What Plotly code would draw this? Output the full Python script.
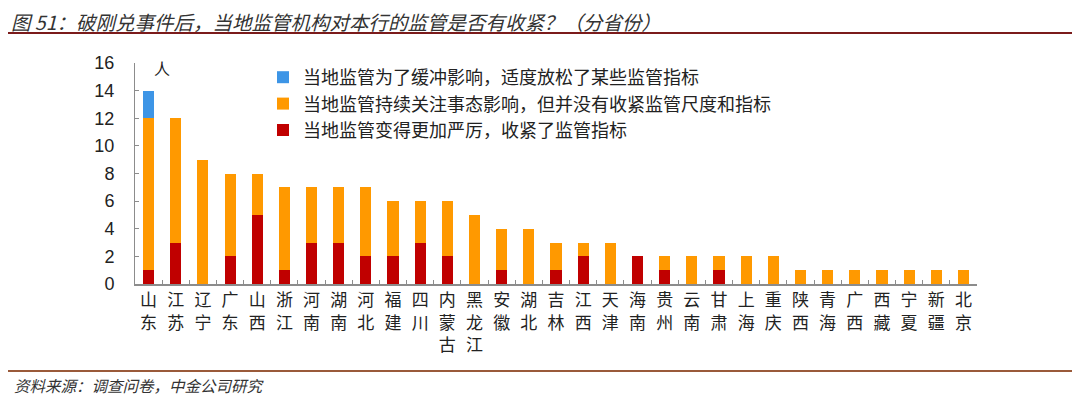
import plotly.graph_objects as go

provinces = ["山东", "江苏", "辽宁", "广东", "山西", "浙江", "河南", "湖南", "河北", "福建",
             "四川", "内蒙古", "黑龙江", "安徽", "湖北", "吉林", "江西", "天津", "海南", "贵州",
             "云南", "甘肃", "上海", "重庆", "陕西", "青海", "广西", "西藏", "宁夏", "新疆", "北京"]
tightened = [1, 3, 0, 2, 5, 1, 3, 3, 2, 2, 3, 2, 0, 1, 0, 1, 2, 0, 2, 1, 0, 1, 0, 0, 0, 0, 0, 0, 0, 0, 0]
watching = [11, 9, 9, 6, 3, 6, 4, 4, 5, 4, 3, 4, 5, 3, 4, 2, 1, 3, 0, 1, 2, 1, 2, 2, 1, 1, 1, 1, 1, 1, 1]
relaxed = [2] + [0] * 30
names = ["当地监管变得更加严厉，收紧了监管指标",
         "当地监管持续关注事态影响，但并没有收紧监管尺度和指标",
         "当地监管为了缓冲影响，适度放松了某些监管指标"]
colors = ["#C00000", "#FF9900", "#3D95E6"]
y_ticks = [0, 2, 4, 6, 8, 10, 12, 14, 16]

labels = ["<br>".join(list(p)) for p in provinces]
font_cn = "Noto Sans CJK SC"

# page offset (browser body margin) compensation: figure starts at (8, 8)
OFF = 8
W, H = 1080 - OFF, 397 - OFF
L, T = 135 - OFF, 63 - OFF
PW, PH = 842, 221
R = W - L - PW
B = H - T - PH


def px(x):  # reference pixel x -> paper x
    return (x - OFF - L) / PW


def py(y):  # reference pixel y -> paper y
    return (T + PH - (y - OFF)) / PH


fig = go.Figure()
for vals, nm, c in zip([tightened, watching, relaxed], names, colors):
    fig.add_trace(go.Bar(x=labels, y=vals, name=nm, marker=dict(color=c, line=dict(width=0))))

fig.update_layout(
    width=W, height=H,
    barmode="stack", bargap=0.59,
    paper_bgcolor="white", plot_bgcolor="white",
    margin=dict(l=L, r=R, t=T, b=B, autoexpand=False),
    font=dict(family=font_cn, color="#222"),
    showlegend=True,
    legend=dict(x=px(263), y=py(59), xanchor="left", yanchor="top", traceorder="reversed",
                font=dict(size=18, family=font_cn, color="#222"), bgcolor="rgba(0,0,0,0)",
                itemwidth=30, tracegroupgap=0),
)
fig.update_xaxes(showline=True, linecolor="#8c8c8c", linewidth=2, ticks="inside",
                 ticklen=4, tickcolor="#8c8c8c", tickson="boundaries",
                 tickfont=dict(size=17, family=font_cn, color="#222"), tickangle=0,
                 automargin=False)
fig.update_yaxes(range=[0, 16], tickvals=y_ticks, showline=True, linecolor="#8c8c8c",
                 linewidth=1, ticks="inside", ticklen=4, tickcolor="#8c8c8c",
                 showgrid=False, zeroline=False, automargin=False, ticklabelstandoff=16,
                 tickfont=dict(size=18, family="Arial, Liberation Sans", color="#222"))

fig.add_annotation(x=px(152), y=py(68), xref="paper", yref="paper", text="人", showarrow=False,
                   xanchor="left", yanchor="middle", font=dict(size=16, family=font_cn, color="#222"))
fig.add_annotation(x=px(9), y=py(21), xref="paper", yref="paper",
                   text="<i>图 51：破刚兑事件后，当地监管机构对本行的监管是否有收紧？（分省份）</i>",
                   showarrow=False, xanchor="left", yanchor="middle",
                   font=dict(size=19.5, family=font_cn, color="#333"))
fig.add_annotation(x=px(12), y=py(385), xref="paper", yref="paper",
                   text="<i>资料来源：调查问卷，中金公司研究</i>",
                   showarrow=False, xanchor="left", yanchor="middle",
                   font=dict(size=15.5, family=font_cn, color="#333"))
for yy, col in [(33, "#7B1B1B"), (371, "#9A5A3A")]:
    fig.add_shape(type="line", xref="paper", yref="paper",
                  x0=px(5), x1=px(1080), y0=py(yy), y1=py(yy),
                  line=dict(color=col, width=2))

fig.write_html("out.html")
